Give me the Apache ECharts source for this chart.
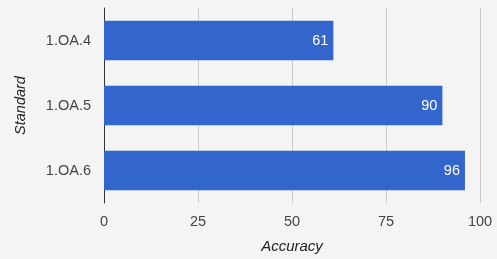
<!DOCTYPE html>
<html><head><meta charset="utf-8">
<script src="https://cdn.jsdelivr.net/npm/echarts@6/dist/echarts.min.js"></script>
<style>html,body{margin:0;padding:0;background:#f4f4f4}#c{width:497px;height:259px}</style>
</head><body><div id="c"></div>
<script>
const categories = ['1.OA.4', '1.OA.5', '1.OA.6'];
const accuracy = [61, 90, 96];
const xTicks = [0, 25, 50, 75, 100];

const chart = echarts.init(document.getElementById('c'), null, {renderer: 'canvas'});
const font = 'Arial, "Liberation Sans", sans-serif';
chart.setOption({
  backgroundColor: '#f4f4f4',
  animation: false,
  grid: {left: 104, right: 17, top: 8, bottom: 55},
  xAxis: {
    type: 'value', min: xTicks[0], max: xTicks[xTicks.length - 1], interval: 25,
    name: 'Accuracy', nameLocation: 'middle', nameGap: 36,
    nameTextStyle: {fontStyle: 'italic', fontSize: 15, color: '#222', fontFamily: font},
    axisLine: {show: false}, axisTick: {show: false},
    axisLabel: {fontSize: 14.5, color: '#444', fontFamily: font, margin: 11},
    splitLine: {lineStyle: {color: '#cccccc', width: 1}}
  },
  yAxis: {
    type: 'category', data: categories, inverse: true,
    name: 'Standard', nameLocation: 'middle', nameGap: 76,
    nameTextStyle: {fontStyle: 'italic', fontSize: 14.5, color: '#222', fontFamily: font, padding: [0, 0, 0, 0]},
    axisLine: {show: true, lineStyle: {color: '#333', width: 1}},
    axisTick: {show: false},
    axisLabel: {fontSize: 14.5, color: '#444', fontFamily: font, margin: 13},
    splitLine: {show: false}
  },
  series: [{
    type: 'bar', data: accuracy, barCategoryGap: '39%',
    itemStyle: {color: '#3366cc'},
    label: {show: true, position: 'insideRight', distance: 5, color: '#fff', fontSize: 14.5, fontFamily: font}
  }]
});
</script></body></html>
